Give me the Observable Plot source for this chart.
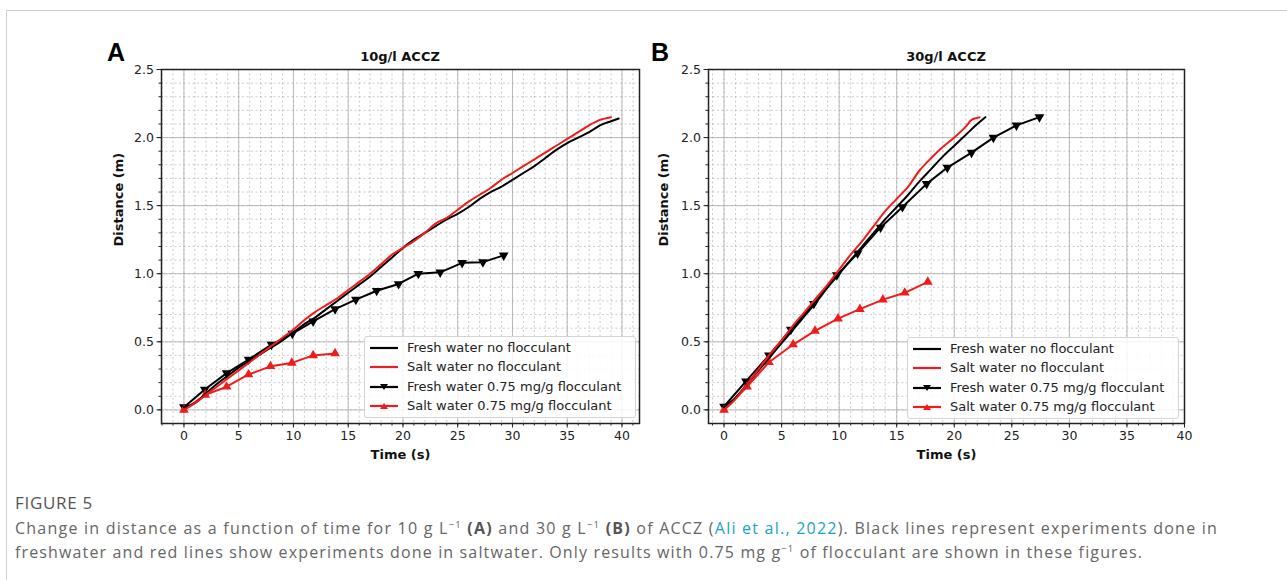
<!DOCTYPE html>
<html><head><meta charset="utf-8">
<script src="https://cdn.jsdelivr.net/npm/d3@7"></script>
<script src="https://cdn.jsdelivr.net/npm/@observablehq/plot@0.6"></script>
<style>
body{margin:0;background:#fff;width:1287px;height:580px;overflow:hidden;position:relative;font-family:"DejaVu Sans",sans-serif;}
#border{position:absolute;left:6px;top:10px;width:1400px;height:700px;border-left:1px solid #cfcfcf;border-top:1px solid #cfcfcf;}
.panel{position:absolute;top:60px;}
.letter{position:absolute;font-family:"Liberation Sans",sans-serif;font-weight:bold;font-size:25px;line-height:25px;color:#000;}
.title{position:absolute;font-weight:bold;font-size:13px;line-height:14px;transform:translateX(-50%);color:#111;white-space:nowrap;}
.legend{position:absolute;border:1px solid #d4d4d4;border-radius:3px;background:rgba(255,255,255,.85);font-size:13px;color:#222;}
.row{position:absolute;left:0;height:18px;white-space:nowrap;}
.row svg{position:absolute;left:5px;top:0;}
.row span{position:absolute;top:0;line-height:18px;}
#fig{position:absolute;left:15px;top:491px;font-family:"Open Sans",sans-serif;font-size:17px;color:#555;white-space:nowrap;}
#cap{position:absolute;left:15px;top:516px;font-family:"Open Sans",sans-serif;font-size:16px;line-height:24px;color:#666;white-space:nowrap;}
#cap .ln{display:block;}
#cap sup{font-size:9.5px;line-height:0;vertical-align:6px;}
#cap b{color:#555;}
.link{color:#1aa3c6;}
</style></head>
<body>
<div id="border"></div>
<div class="letter" style="left:107px;top:40px;">A</div>
<div class="letter" style="left:651px;top:40px;">B</div>
<div class="title" style="left:400px;top:50px;">10g/l ACCZ</div>
<div class="title" style="left:946px;top:50px;">30g/l ACCZ</div>
<div id="panelA" class="panel" style="left:100px;"></div>
<div id="panelB" class="panel" style="left:640px;"></div>
<div id="fig"><span>FIGURE 5</span></div>
<div id="cap"><span class="ln" id="l1">Change in distance as a function of time for 10 g L<sup>−1</sup> <b>(A)</b> and 30 g L<sup>−1</sup> <b>(B)</b> of ACCZ (<span class="link">Ali et al., 2022</span>). Black lines represent experiments done in</span><span class="ln" id="l2">freshwater and red lines show experiments done in saltwater. Only results with 0.75 mg g<sup>−1</sup> of flocculant are shown in these figures.</span></div>
<script>
// ---- tick labels ----
const xTicks = [0, 5, 10, 15, 20, 25, 30, 35, 40];
const yTicks = [0, 0.5, 1.0, 1.5, 2.0, 2.5];
const seriesNames = ["Fresh water no flocculant", "Salt water no flocculant", "Fresh water 0.75 mg/g flocculant", "Salt water 0.75 mg/g flocculant"];

// ---- Panel A (10 g/l ACCZ) ----
const A_fresh_t = [0,1,2,3,4,5,6,7,8,9,10,11,12,13,14,15,16,17,18,19,20,21,22,23,24,25,26,27,28,29,30,31,32,33,34,35,36,37,38,39,39.7];
const A_fresh_d = [0.02,0.05,0.12,0.19,0.25,0.31,0.36,0.41,0.46,0.51,0.57,0.63,0.68,0.74,0.80,0.86,0.92,0.98,1.05,1.12,1.19,1.25,1.30,1.35,1.40,1.44,1.49,1.55,1.60,1.64,1.69,1.74,1.79,1.85,1.91,1.96,2.00,2.04,2.09,2.12,2.14];
const A_salt_t = [0,1,2,3,4,5,6,7,8,9,10,11,12,13,14,15,16,17,18,19,20,21,22,23,24,25,26,27,28,29,30,31,32,33,34,35,36,37,38,39];
const A_salt_d = [0.00,0.05,0.11,0.17,0.23,0.29,0.35,0.41,0.47,0.53,0.59,0.66,0.72,0.77,0.82,0.88,0.94,1.00,1.07,1.14,1.19,1.24,1.30,1.37,1.41,1.47,1.53,1.58,1.63,1.69,1.74,1.79,1.84,1.89,1.94,1.99,2.04,2.09,2.13,2.15];
const A_freshFloc_t = [0,1.9,3.9,5.9,8.0,9.9,11.8,13.8,15.7,17.6,19.6,21.4,23.4,25.4,27.3,29.2];
const A_freshFloc_d = [0.02,0.15,0.27,0.37,0.48,0.56,0.65,0.74,0.81,0.875,0.925,1.0,1.01,1.08,1.085,1.135];
const A_saltFloc_t = [0,1.95,3.9,5.9,7.9,9.85,11.8,13.8];
const A_saltFloc_d = [0,0.11,0.17,0.26,0.32,0.345,0.40,0.415];

// ---- Panel B (30 g/l ACCZ) ----
const B_fresh_t = [0,1,2,3,4,5,6,7,8,9,10,11,12,13,14,15,16,17,18,19,20,21,22,22.7];
const B_fresh_d = [0.02,0.09,0.19,0.29,0.39,0.49,0.59,0.69,0.79,0.90,1.00,1.10,1.20,1.30,1.40,1.49,1.58,1.68,1.77,1.86,1.94,2.02,2.10,2.15];
const B_salt_t = [0,1,2,3,4,5,6,7,8,9,10,11,12,13,14,15,16,17,18,19,20,21,21.5,22.2];
const B_salt_d = [0.00,0.08,0.19,0.30,0.41,0.51,0.62,0.72,0.82,0.92,1.03,1.14,1.24,1.35,1.46,1.55,1.64,1.76,1.85,1.93,2.00,2.08,2.13,2.15];
const B_freshFloc_t = [0,1.9,3.9,5.8,7.8,9.8,11.6,13.6,15.5,17.6,19.4,21.5,23.4,25.4,27.4];
const B_freshFloc_d = [0.025,0.21,0.40,0.59,0.78,0.99,1.15,1.34,1.49,1.66,1.78,1.89,2.0,2.09,2.15];
const B_saltFloc_t = [0,2.0,3.9,6.0,7.9,9.9,11.8,13.8,15.7,17.7];
const B_saltFloc_d = [0,0.17,0.35,0.48,0.58,0.67,0.74,0.81,0.86,0.94];

const rows = (t, d) => t.map((v, i) => ({t: v, d: d[i]}));
const RED = "#ee1c1c";

function panel(cfg) {
  const minorX = d3.range(Math.ceil(cfg.xDomain[0]), Math.floor(cfg.xDomain[1]) + 1);
  const minorY = d3.range(0, 26).map(v => v / 10);
  return Plot.plot({
    width: 550, height: 410,
    marginLeft: cfg.ml, marginRight: cfg.mr, marginTop: 9, marginBottom: 47,
    style: {fontFamily: "DejaVu Sans", fontSize: "12.5px", color: "#222", background: "transparent", overflow: "visible"},
    x: {domain: cfg.xDomain, label: null},
    y: {domain: [-0.1, 2.5], label: null},
    marks: [
      Plot.gridX(minorX, {stroke: "#9a9a9a", strokeOpacity: 0.5, strokeDasharray: "2,2.5"}),
      Plot.gridY(minorY, {stroke: "#9a9a9a", strokeOpacity: 0.5, strokeDasharray: "2,2.5"}),
      Plot.gridX(xTicks, {stroke: "#b0b0b0", strokeOpacity: 0.85}),
      Plot.gridY(yTicks, {stroke: "#b0b0b0", strokeOpacity: 0.85}),
      Plot.axisX(minorX, {tickSize: 2.5, tickFormat: () => "", label: null, stroke: "#222"}),
      Plot.axisY(minorY, {tickSize: 2.5, tickFormat: () => "", label: null, stroke: "#222"}),
      Plot.axisX(xTicks, {tickSize: 4.5, tickPadding: 3, tickFormat: d => String(d), label: null, stroke: "#222", fontSize: 12.5}),
      Plot.axisY(yTicks, {tickSize: 4.5, tickPadding: 3, tickFormat: d3.format(".1f"), label: null, stroke: "#222", fontSize: 12.5}),
      Plot.line(rows(cfg.freshFloc[0], cfg.freshFloc[1]), {x: "t", y: "d", stroke: "#000", strokeWidth: 2}),
      Plot.dot(rows(cfg.freshFloc[0], cfg.freshFloc[1]), {x: "t", y: "d", symbol: "triangle", r: 3.6, fill: "#000", stroke: "none", rotate: 180}),
      Plot.line(rows(cfg.saltFloc[0], cfg.saltFloc[1]), {x: "t", y: "d", stroke: RED, strokeWidth: 2}),
      Plot.dot(rows(cfg.saltFloc[0], cfg.saltFloc[1]), {x: "t", y: "d", symbol: "triangle", r: 3.6, fill: RED, stroke: "none"}),
      Plot.line(rows(cfg.fresh[0], cfg.fresh[1]), {x: "t", y: "d", stroke: "#000", strokeWidth: 2, curve: "catmull-rom"}),
      Plot.line(rows(cfg.salt[0], cfg.salt[1]), {x: "t", y: "d", stroke: RED, strokeWidth: 2, curve: "catmull-rom"}),
      Plot.frame({stroke: "#222", strokeWidth: 1.5}),
      Plot.text(["Time (s)"], {text: d => d, frameAnchor: "bottom", dy: 35, fontWeight: "bold", fontSize: 13, fill: "#111"}),
      Plot.text(["Distance (m)"], {text: d => d, frameAnchor: "left", dx: cfg.ylDx, rotate: -90, fontWeight: "bold", fontSize: 13, fill: "#111"})
    ]
  });
}

document.getElementById("panelA").appendChild(panel({
  xDomain: [-2.05, 41.6], ml: 61, mr: 11, ylDx: -43,
  fresh: [A_fresh_t, A_fresh_d], salt: [A_salt_t, A_salt_d],
  freshFloc: [A_freshFloc_t, A_freshFloc_d], saltFloc: [A_saltFloc_t, A_saltFloc_d]
}));
document.getElementById("panelB").appendChild(panel({
  xDomain: [-1.35, 40], ml: 68, mr: 6, ylDx: -45,
  fresh: [B_fresh_t, B_fresh_d], salt: [B_salt_t, B_salt_d],
  freshFloc: [B_freshFloc_t, B_freshFloc_d], saltFloc: [B_saltFloc_t, B_saltFloc_d]
}));

// ---- legends ----
const legendStyles = [
  {stroke: "#000", marker: null},
  {stroke: RED, marker: null},
  {stroke: "#000", marker: "down"},
  {stroke: RED, marker: "up"}
];
function legend(left, top) {
  const box = document.createElement("div");
  box.className = "legend";
  Object.assign(box.style, {left: left + "px", top: top + "px", width: "270px", height: "80px"});
  seriesNames.forEach((name, i) => {
    const s = legendStyles[i];
    const row = document.createElement("div");
    row.className = "row";
    row.style.top = (2 + i * 19.3) + "px";
    let mk = "";
    if (s.marker === "down") mk = `<path d="M10,6 L18,6 L14,12 Z" fill="${s.stroke}"/>`;
    if (s.marker === "up") mk = `<path d="M10,12 L18,12 L14,6 Z" fill="${s.stroke}"/>`;
    row.innerHTML = `<svg width="30" height="18"><line x1="0" x2="28" y1="9" y2="9" stroke="${s.stroke}" stroke-width="2.2"/>${mk}</svg><span style="left:42px">${name}</span>`;
    box.appendChild(row);
  });
  document.body.appendChild(box);
}
legend(364, 336);
legend(907, 337);

// ---- fit caption widths to the reference layout ----
function fit(el, target) {
  el.style.display = "inline-block";
  const w = el.getBoundingClientRect().width;
  const n = el.textContent.length;
  el.style.letterSpacing = ((target - w) / n) + "px";
  el.style.display = "block";
}
fit(document.querySelector("#fig span"), 78);
fit(document.getElementById("l1"), 1203);
fit(document.getElementById("l2"), 1128);
</script>
</body></html>
